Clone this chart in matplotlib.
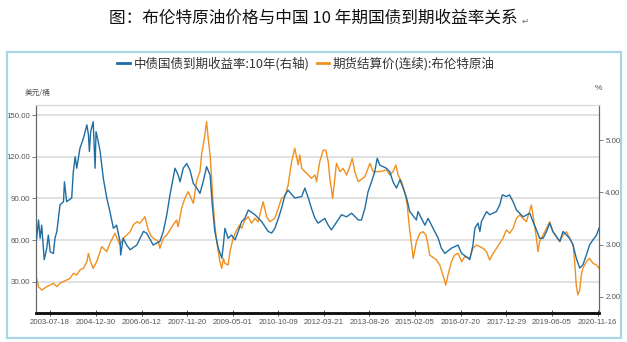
import datetime as dt
import matplotlib
matplotlib.use("Agg")
import matplotlib.pyplot as plt
from matplotlib.patches import Rectangle
from matplotlib.lines import Line2D

plt.rcParams['font.family'] = ['Noto Sans CJK SC', 'DejaVu Sans']

# ---------------- data (decimal year, value) ----------------
yield_years = [2003.12, 2003.18, 2003.23, 2003.28, 2003.36, 2003.44, 2003.49, 2003.55, 2003.65, 2003.70,
               2003.76, 2003.86, 2003.97, 2004.00, 2004.07, 2004.23, 2004.28, 2004.34, 2004.39, 2004.49,
               2004.60, 2004.71, 2004.76, 2004.79, 2004.83, 2004.91, 2004.97, 2005.00, 2005.07, 2005.13,
               2005.23, 2005.34, 2005.44, 2005.55, 2005.65, 2005.76, 2005.78, 2005.86, 2005.97, 2006.08,
               2006.29, 2006.50, 2006.60, 2006.81, 2007.02, 2007.13, 2007.24, 2007.34, 2007.50, 2007.60,
               2007.66, 2007.76, 2007.87, 2007.97, 2008.08, 2008.19, 2008.29, 2008.39, 2008.50, 2008.61,
               2008.68, 2008.76, 2008.87, 2008.98, 2009.03, 2009.08, 2009.18, 2009.29, 2009.40, 2009.50,
               2009.61, 2009.71, 2009.82, 2010.03, 2010.24, 2010.45, 2010.56, 2010.66, 2010.77, 2010.87,
               2010.98, 2011.08, 2011.29, 2011.51, 2011.61, 2011.72, 2011.82, 2011.93, 2012.03, 2012.24,
               2012.35, 2012.45, 2012.66, 2012.77, 2012.93, 2013.09, 2013.30, 2013.40, 2013.51, 2013.61,
               2013.72, 2013.82, 2013.90, 2013.98, 2014.19, 2014.30, 2014.40, 2014.51, 2014.62, 2014.72,
               2014.83, 2014.93, 2015.14, 2015.19, 2015.41, 2015.51, 2015.72, 2015.83, 2015.93, 2016.04,
               2016.25, 2016.46, 2016.57, 2016.78, 2016.83, 2016.93, 2016.99, 2017.09, 2017.15, 2017.20,
               2017.36, 2017.46, 2017.67, 2017.78, 2017.86, 2017.99, 2018.09, 2018.20, 2018.31, 2018.52,
               2018.73, 2018.83, 2018.94, 2019.04, 2019.15, 2019.26, 2019.36, 2019.46, 2019.68, 2019.78,
               2019.99, 2020.10, 2020.20, 2020.31, 2020.41, 2020.52, 2020.62, 2020.73, 2020.84, 2020.92]
yield_values = [3.12, 3.47, 3.12, 3.37, 2.71, 2.93, 3.18, 2.86, 2.83, 3.12,
                3.25, 3.76, 3.82, 4.20, 3.82, 3.89, 4.39, 4.68, 4.46, 4.84,
                5.03, 5.29, 5.10, 4.78, 5.16, 5.35, 4.46, 5.16, 4.97, 4.78,
                4.27, 3.89, 3.63, 3.31, 3.37, 3.06, 2.80, 3.12, 2.99, 2.90,
                2.99, 3.25, 3.22, 2.99, 3.06, 3.25, 3.57, 3.95, 4.46, 4.33,
                4.20, 4.46, 4.55, 4.43, 4.17, 4.08, 3.98, 4.20, 4.49, 4.33,
                3.76, 3.25, 2.93, 2.74, 2.99, 3.31, 3.12, 3.18, 3.09, 3.25,
                3.44, 3.50, 3.66, 3.57, 3.44, 3.25, 3.22, 3.31, 3.50, 3.69,
                3.95, 4.04, 3.89, 3.92, 4.08, 3.89, 3.69, 3.50, 3.41, 3.50,
                3.37, 3.28, 3.47, 3.57, 3.53, 3.60, 3.47, 3.47, 3.69, 4.01,
                4.20, 4.39, 4.65, 4.52, 4.46, 4.39, 4.20, 4.08, 4.24, 4.08,
                3.89, 3.63, 3.47, 3.63, 3.37, 3.50, 3.25, 3.12, 2.93, 2.83,
                2.93, 2.99, 2.83, 2.74, 2.71, 2.99, 3.31, 3.41, 3.25, 3.44,
                3.63, 3.57, 3.63, 3.76, 3.95, 3.92, 3.95, 3.82, 3.66, 3.53,
                3.60, 3.44, 3.28, 3.12, 3.12, 3.25, 3.41, 3.25, 3.06, 3.25,
                3.12, 2.99, 2.74, 2.55, 2.61, 2.80, 2.99, 3.09, 3.18, 3.31]

brent_years = [2003.12, 2003.18, 2003.28, 2003.44, 2003.55, 2003.65, 2003.76, 2003.86, 2004.07, 2004.18,
               2004.28, 2004.39, 2004.49, 2004.60, 2004.71, 2004.76, 2004.81, 2004.91, 2005.02, 2005.13,
               2005.18, 2005.34, 2005.44, 2005.60, 2005.71, 2005.76, 2005.86, 2006.08, 2006.18, 2006.29,
               2006.39, 2006.55, 2006.65, 2006.76, 2006.97, 2007.02, 2007.13, 2007.24, 2007.34, 2007.44,
               2007.55, 2007.60, 2007.71, 2007.81, 2007.92, 2008.08, 2008.19, 2008.29, 2008.34, 2008.43,
               2008.50, 2008.55, 2008.61, 2008.66, 2008.71, 2008.76, 2008.82, 2008.87, 2008.92, 2008.98,
               2009.03, 2009.08, 2009.18, 2009.24, 2009.34, 2009.45, 2009.55, 2009.61, 2009.71, 2009.82,
               2009.92, 2010.03, 2010.13, 2010.29, 2010.40, 2010.50, 2010.66, 2010.77, 2010.87, 2010.98,
               2011.08, 2011.19, 2011.29, 2011.40, 2011.45, 2011.51, 2011.61, 2011.72, 2011.82, 2011.93,
               2011.98, 2012.08, 2012.19, 2012.27, 2012.35, 2012.40, 2012.49, 2012.56, 2012.61, 2012.72,
               2012.82, 2012.93, 2013.03, 2013.11, 2013.19, 2013.30, 2013.51, 2013.67, 2013.77, 2013.98,
               2014.19, 2014.30, 2014.40, 2014.49, 2014.56, 2014.67, 2014.77, 2014.85, 2014.91, 2014.99,
               2015.04, 2015.14, 2015.25, 2015.35, 2015.44, 2015.51, 2015.56, 2015.78, 2015.88, 2015.98,
               2016.07, 2016.14, 2016.25, 2016.35, 2016.46, 2016.57, 2016.67, 2016.83, 2016.93, 2017.04,
               2017.25, 2017.36, 2017.46, 2017.57, 2017.78, 2017.88, 2017.99, 2018.09, 2018.20, 2018.31,
               2018.41, 2018.62, 2018.78, 2018.83, 2018.94, 2018.99, 2019.04, 2019.26, 2019.36, 2019.46,
               2019.68, 2019.78, 2019.89, 2019.99, 2020.10, 2020.15, 2020.20, 2020.25, 2020.31, 2020.36,
               2020.41, 2020.52, 2020.62, 2020.73, 2020.84, 2020.92]
brent_values = [32.6, 26.6, 24.2, 26.6, 27.8, 29.1, 26.6, 29.1, 31.4, 32.6,
                36.2, 35.0, 38.6, 39.8, 44.6, 50.6, 45.8, 39.8, 44.6, 51.8,
                55.4, 51.8, 57.8, 65.0, 59.0, 56.6, 61.4, 66.1, 71.0, 73.3,
                72.2, 76.9, 67.4, 62.5, 59.0, 54.2, 61.4, 63.8, 67.4, 71.0,
                74.5, 69.7, 83.0, 90.1, 94.9, 86.5, 103.3, 109.3, 121.3, 133.3,
                145.2, 133.3, 121.3, 104.5, 85.3, 71.0, 59.0, 51.8, 44.6, 39.8,
                47.0, 43.4, 42.2, 51.8, 61.4, 67.4, 71.0, 68.6, 74.5, 76.9,
                72.2, 75.8, 73.3, 87.7, 76.9, 73.3, 75.8, 83.0, 90.1, 91.3,
                99.7, 116.4, 126.1, 114.1, 121.3, 111.7, 109.3, 106.9, 104.5, 106.9,
                102.1, 116.4, 124.8, 124.8, 116.4, 104.5, 90.1, 104.5, 115.3, 109.3,
                111.7, 106.9, 112.8, 118.9, 109.3, 102.1, 105.7, 115.3, 109.3, 109.3,
                110.5, 106.9, 109.3, 114.1, 106.9, 102.1, 94.9, 85.3, 71.0, 56.6,
                47.0, 59.0, 65.0, 66.1, 63.8, 56.6, 49.4, 45.8, 42.2, 35.0,
                27.8, 35.0, 44.6, 49.4, 50.6, 44.6, 48.2, 47.0, 54.2, 56.6,
                54.2, 51.8, 45.8, 50.6, 57.8, 61.4, 67.4, 65.0, 68.6, 75.8,
                78.1, 73.3, 85.3, 78.1, 61.4, 51.8, 59.0, 68.6, 73.3, 66.1,
                59.0, 63.8, 66.1, 61.4, 56.6, 44.6, 27.8, 20.7, 24.2, 35.0,
                39.8, 44.6, 47.0, 43.4, 42.2, 39.8]

tick_dates = ["2003-07-18", "2004-12-30", "2006-06-12", "2007-11-20", "2009-05-01",
              "2010-10-09", "2012-03-21", "2013-08-26", "2015-02-05", "2016-07-20",
              "2017-12-29", "2019-06-05", "2020-11-16"]
left_ticks = [30, 60, 90, 120, 150]
right_ticks = [2.0, 3.0, 4.0, 5.0]

title = "图：布伦特原油价格与中国 10 年期国债到期收益率关系"
label_yield = "中债国债到期收益率:10年(右轴)"
label_brent = "期货结算价(连续):布伦特原油"


def dec_year(s):
    d = dt.date.fromisoformat(s)
    a = dt.date(d.year, 1, 1)
    b = dt.date(d.year + 1, 1, 1)
    return d.year + (d - a).days / (b - a).days


BLUE = "#1f6ea3"
ORANGE = "#f0901f"
TXT = "#555555"
NUM_FONT = ['Liberation Sans Narrow', 'Liberation Sans', 'DejaVu Sans']

fig = plt.figure(figsize=(6.27, 3.42), dpi=100)
W, H = 627, 342

# outer light-blue frame
fig.patches.append(Rectangle((7 / W, 1 - 338 / H), 614 / W, 286 / H, transform=fig.transFigure,
                             fill=False, edgecolor="#a9d5e4", linewidth=1.6))

fig.text(0.5, 1 - 18 / H, title, ha="center", va="center", fontsize=12, color="#111111")
fig.text(522 / W, 1 - 21 / H, "↵", ha="left", va="center", fontsize=6, color="#666666",
         family=['DejaVu Sans'])

ax = fig.add_axes([36 / W, 1 - 313 / H, (599 - 36) / W, (313 - 105) / H])
ax2 = ax.twinx()

ax.plot(brent_years, brent_values, color=ORANGE, lw=1.0, zorder=3)
ax2.plot(yield_years, yield_values, color=BLUE, lw=1.0, zorder=3)

ax.set_xlim(2003.10, 2020.92)
ax.set_ylim(7.7, 157.2)
ax2.set_ylim(1.69, 5.67)

ax.set_yticks(left_ticks)
ax.set_yticklabels([f"{v:.2f}" for v in left_ticks])
ax2.set_yticks(right_ticks)
ax2.set_yticklabels([f"{v:.2f}" for v in right_ticks])
ax.set_xticks([dec_year(s) for s in tick_dates])
ax.set_xticklabels(tick_dates)

ax.grid(axis="y", color="#dcdcdc", lw=1.2)
ax.set_axisbelow(True)

for a in (ax, ax2):
    for lab in a.get_yticklabels() + a.get_xticklabels():
        lab.set_family(NUM_FONT)
        lab.set_fontsize(5.7)
        lab.set_color(TXT)
    a.spines["top"].set_color("#d8d8d8")
    a.spines["left"].set_color("#666666")
    a.spines["right"].set_color("#666666")
    a.spines["bottom"].set_color("#111111")
    a.spines["bottom"].set_linewidth(1.8)
    a.spines["left"].set_linewidth(0.8)
    a.spines["right"].set_linewidth(0.8)

ax.tick_params(axis="y", length=3, width=0.6, color="#666666", pad=1.5)
ax2.tick_params(axis="y", length=3, width=0.6, color="#666666", pad=1.5)
ax.tick_params(axis="x", length=4, width=0.6, direction="inout", color="#333333", pad=2.5)

fig.text(25 / W, 1 - 93 / H, "美元/桶", ha="left", va="center", fontsize=5.5, color=TXT)
fig.text(598 / W, 1 - 88 / H, "%", ha="center", va="center", fontsize=6, color=TXT,
         family=NUM_FONT)

handles = [Line2D([], [], color=BLUE, lw=2.0), Line2D([], [], color=ORANGE, lw=2.0)]
fig.legend(handles, [label_yield, label_brent], loc="center", bbox_to_anchor=(0.488, 1 - 64 / H),
           ncol=2, frameon=False, fontsize=9.0, handlelength=1.0, handletextpad=0.3,
           columnspacing=0.6, labelcolor="#333333")

fig.savefig("out.png", dpi=100)
